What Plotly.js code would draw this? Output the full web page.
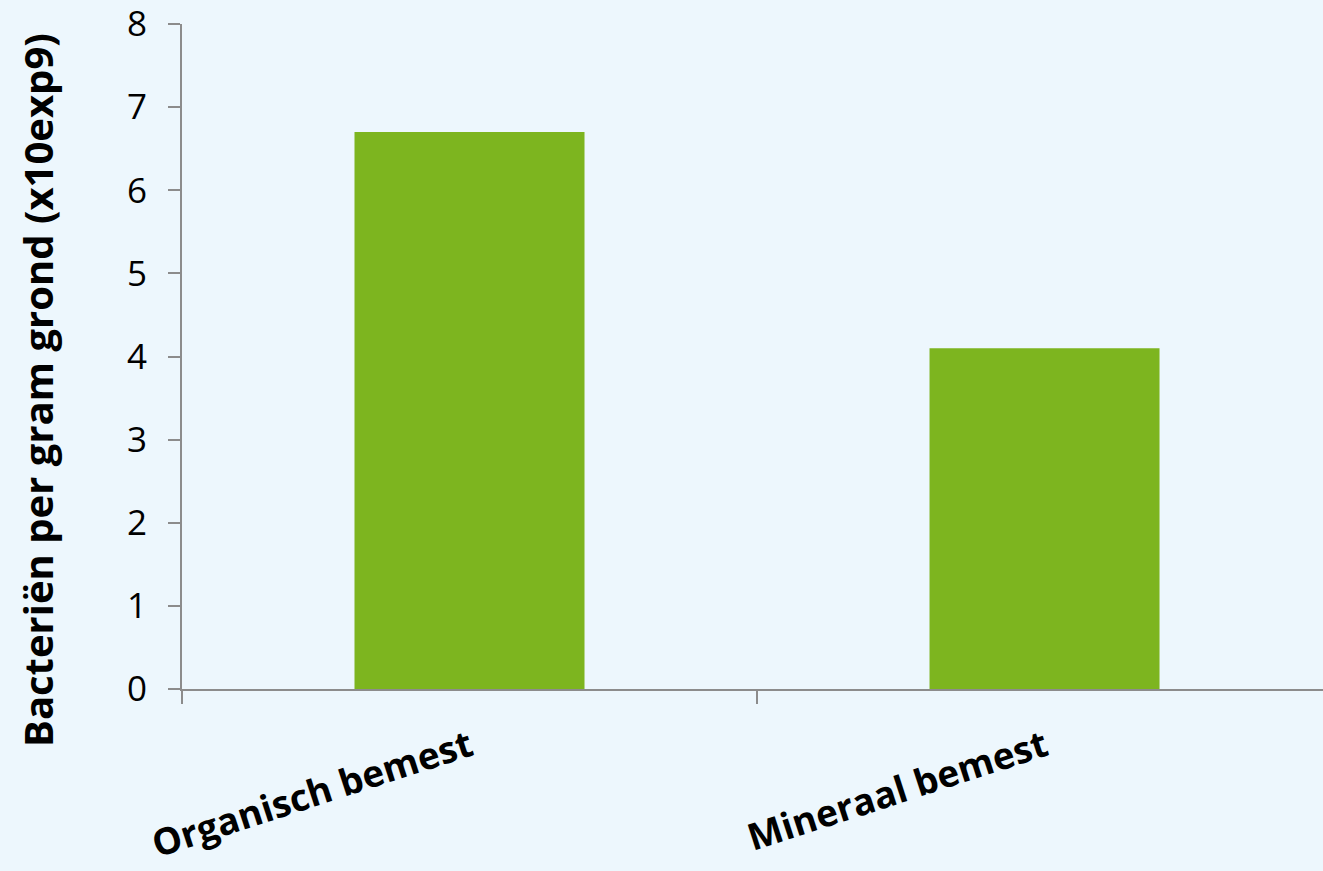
<!DOCTYPE html>
<html><head><meta charset="utf-8">
<script src="https://cdn.plot.ly/plotly-3.0.1.min.js"></script>
<style>html,body{margin:0;padding:0;background:#EDF7FD;}</style>
</head><body>
<div id="chart" style="width:1323px;height:871px;"></div>
<script>
const categories = ["Organisch bemest", "Mineraal bemest"];
const values = [6.7, 4.1];
const yTickVals = [0, 1, 2, 3, 4, 5, 6, 7, 8];
const yTitle = "Bacteriën per gram grond (x10exp9)";

const trace = {
  type: "bar",
  x: categories,
  y: values,
  marker: {color: "#7DB51F"},
  width: 0.4,
  hoverinfo: "x+y"
};

const layout = {
  width: 1323, height: 871,
  paper_bgcolor: "#EDF7FD",
  plot_bgcolor: "#EDF7FD",
  margin: {l: 182, r: 0, t: 24, b: 182},
  showlegend: false,
  font: {family: "Open Sans", color: "#000"},
  xaxis: {
    range: [-0.5, 1.4843],
    showline: true, linecolor: "#8C8C8C", linewidth: 2,
    ticks: "outside", tickson: "boundaries", ticklen: 13, tickwidth: 2, tickcolor: "#8C8C8C",
    tickangle: -18,
    tickfont: {family: "Open Sans", size: 37, color: "#000", weight: "bold"},
    ticklabelstandoff: 20,
    ticklabeloverflow: "allow",
    showgrid: false, zeroline: false
  },
  yaxis: {
    range: [0, 8],
    tickvals: yTickVals,
    showline: true, linecolor: "#8C8C8C", linewidth: 2,
    ticks: "outside", ticklen: 12, tickwidth: 2, tickcolor: "#8C8C8C",
    tickfont: {family: "Open Sans", size: 35, color: "#000"},
    ticklabelstandoff: 14,
    ticklabeloverflow: "allow",
    showgrid: false, zeroline: false
  },
  annotations: [{
    text: "<b>" + yTitle + "</b>",
    xref: "paper", yref: "paper",
    x: -0.126, y: 0.45,
    xanchor: "center", yanchor: "middle",
    textangle: -90, showarrow: false,
    font: {family: "Open Sans", size: 40, color: "#000"}
  }]
};

Plotly.newPlot("chart", [trace], layout, {displayModeBar: false});
</script>
</body></html>
